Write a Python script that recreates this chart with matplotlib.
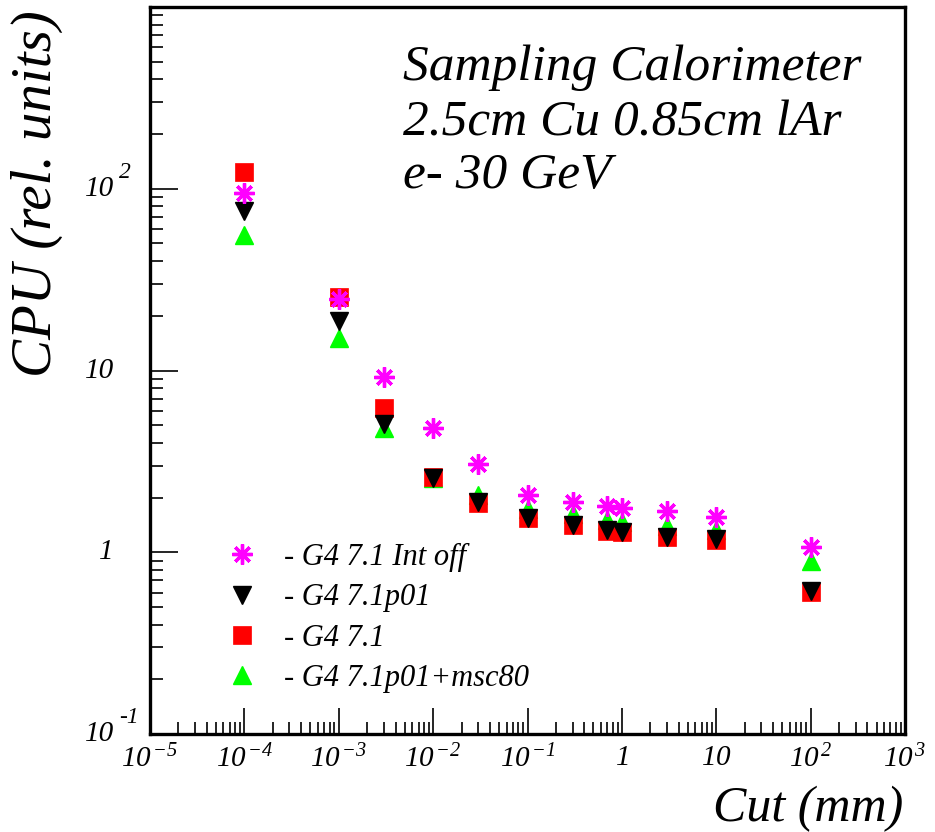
import numpy as np
import matplotlib
matplotlib.use("Agg")
import matplotlib.pyplot as plt
from matplotlib.ticker import LogLocator, FixedLocator, NullFormatter
import matplotlib.transforms as mtransforms

# ---- data -------------------------------------------------------------
cut_mm = [1e-4, 1e-3, 3e-3, 1e-2, 3e-2, 0.1, 0.3, 0.7, 1.0, 3.0, 10.0, 100.0]

cpu_int_off = [94.8, 24.7, 9.2, 4.83, 3.06, 2.07, 1.89, 1.80, 1.75, 1.68, 1.56, 1.07]
cpu_p01 = [75.4, 18.7, 5.05, 2.56, 1.89, 1.55, 1.41, 1.32, 1.29, 1.21, 1.18, 0.61]
cpu_71 = [123.6, 25.4, 6.18, 2.60, 1.87, 1.54, 1.41, 1.31, 1.29, 1.21, 1.17, 0.604]
cpu_msc80 = [56.0, 15.0, 4.8, 2.55, 2.07, 1.73, 1.62, 1.50, 1.46, 1.40, 1.33, 0.895]

series_labels = ["- G4 7.1 Int off", "- G4 7.1p01", "- G4 7.1", "- G4 7.1p01+msc80"]

x_tick_vals = [1e-5, 1e-4, 1e-3, 1e-2, 1e-1, 1, 10, 1e2, 1e3]
x_tick_text = [r"$\mathit{10}^{\,\mathit{-5}}$", r"$\mathit{10}^{\,\mathit{-4}}$",
               r"$\mathit{10}^{\,\mathit{-3}}$", r"$\mathit{10}^{\,\mathit{-2}}$",
               r"$\mathit{10}^{\,\mathit{-1}}$", r"$\mathit{1}$", r"$\mathit{10}$",
               r"$\mathit{10}^{\,\mathit{2}}$", r"$\mathit{10}^{\,\mathit{3}}$"]
y_tick_vals = [0.1, 1, 10, 100]
y_tick_base = ["10", "1", "10", "10"]
y_tick_exp = ["-1", None, None, "2"]

info_lines = ["Sampling Calorimeter", "2.5cm Cu 0.85cm lAr", "e- 30 GeV"]

# ---- style ------------------------------------------------------------
SERIF = "Liberation Serif"
plt.rcParams["font.family"] = [SERIF, "DejaVu Serif"]
plt.rcParams["font.style"] = "italic"
plt.rcParams["mathtext.fontset"] = "custom"
plt.rcParams["mathtext.it"] = "Liberation Serif:italic"
plt.rcParams["mathtext.rm"] = "Liberation Serif:italic"

W, H = 935, 832
fig = plt.figure(figsize=(W / 100, H / 100), dpi=100)
L, R, B, T = 150, 905, 734, 7
ax = fig.add_axes([L / W, 1 - B / H, (R - L) / W, (B - T) / H])
ax.set_xscale("log")
ax.set_yscale("log")
ax.set_xlim(1e-5, 1e3)
ax.set_ylim(0.1, 1e3)

for s in ax.spines.values():
    s.set_linewidth(2.4)

# markers, drawn bottom to top
ms = 13.5
h_msc = ax.plot(cut_mm, cpu_msc80, ls="none", marker="^", ms=ms, color="#00ff00",
                mec="#00ff00", label=series_labels[3], zorder=3)[0]
h_71 = ax.plot(cut_mm, cpu_71, ls="none", marker="s", ms=ms, color="#ff0000",
               mec="#ff0000", mew=0.5, label=series_labels[2], zorder=4)[0]
h_p01 = ax.plot(cut_mm, cpu_p01, ls="none", marker="v", ms=ms, color="black",
                label=series_labels[1], zorder=5)[0]
h_off = ax.plot(cut_mm, cpu_int_off, ls="none", marker=(8, 2, 0), ms=14.5, mew=2.4,
                color="#ff00ff", mec="#ff00ff", label=series_labels[0], zorder=6)[0]

# ticks
ax.xaxis.set_major_locator(FixedLocator(x_tick_vals))
ax.xaxis.set_minor_locator(LogLocator(base=10, subs=np.arange(2, 10), numticks=100))
ax.xaxis.set_minor_formatter(NullFormatter())
ax.set_xticklabels(x_tick_text, fontsize=21)
ax.yaxis.set_major_locator(FixedLocator(y_tick_vals))
ax.yaxis.set_minor_locator(LogLocator(base=10, subs=np.arange(2, 10), numticks=100))
ax.yaxis.set_minor_formatter(NullFormatter())
ax.set_yticklabels([])

ax.tick_params(axis="both", which="both", direction="in", top=False, right=False, width=1.2)
ax.tick_params(axis="x", which="major", length=19, pad=8)
ax.tick_params(axis="x", which="minor", length=8.5)
ax.tick_params(axis="y", which="major", length=20, pad=8)
ax.tick_params(axis="y", which="minor", length=9.5)

# y tick labels: base number right aligned, exponent raised after it
ytrans = mtransforms.blended_transform_factory(fig.transFigure, ax.transData)
for v, b, e in zip(y_tick_vals, y_tick_base, y_tick_exp):
    ax.text(114 / W, v, b, transform=ytrans, ha="right", va="center",
            fontsize=21, family=SERIF, style="italic")
    if e is not None:
        et = mtransforms.offset_copy(ytrans, fig=fig, x=0, y=4, units="points")
        ax.text(119 / W, v, e, transform=et, ha="left", va="bottom",
                fontsize=17, family=SERIF, style="italic")

# axis titles
fig.text(37 / W, 1 - 10 / H, "CPU (rel. units)", rotation=90, ha="center", va="top",
         fontsize=41, family=SERIF, style="italic")
fig.text(903 / W, 1 - 821 / H, "Cut (mm)", ha="right", va="baseline",
         fontsize=36, family=SERIF, style="italic")

# description block
for txt, yb in zip(info_lines, [80, 136, 188]):
    fig.text(403 / W, 1 - yb / H, txt, ha="left", va="baseline",
             fontsize=37, family=SERIF, style="italic")

# legend
leg = ax.legend(handles=[h_off, h_p01, h_71, h_msc], loc="upper left",
                bbox_to_anchor=(227 / W, 1 - 543 / H), bbox_transform=fig.transFigure,
                frameon=False, handlelength=1.0, handletextpad=0.85,
                labelspacing=0.37, borderpad=0, borderaxespad=0,
                prop={"family": SERIF, "style": "italic", "size": 22})

fig.savefig("out.png", dpi=100)
